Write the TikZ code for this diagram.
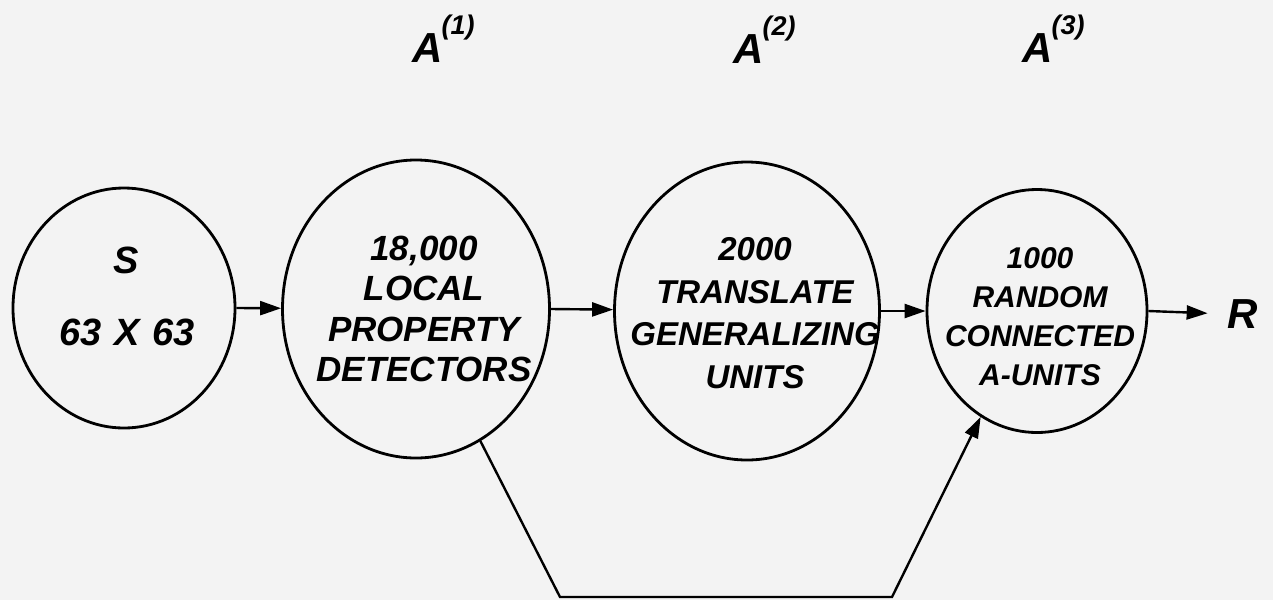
\documentclass[tikz,border=0pt]{standalone}
\usepackage{fontspec}
\setmainfont{Liberation Sans}
\usetikzlibrary{shapes.geometric,arrows.meta}
\definecolor{bg}{RGB}{243,243,243}
\begin{document}
\begin{tikzpicture}[x=1pt,y=-1pt,
  unit/.style={ellipse,draw,line width=2.8pt,inner sep=0pt},
  lbl/.style={align=center,inner sep=0pt},
  conn/.style={line width=2.4pt,-{Triangle[length=21pt,width=14pt]}},
  layer/.style={anchor=base west,inner sep=0pt,font=\bfseries\itshape\fontsize{42}{42}\selectfont}]
\fill[bg] (0,0) rectangle (1273,600);
\useasboundingbox (0,0) rectangle (1273,600);

% units
\node[unit,minimum width=222pt,minimum height=240pt] (s) at (124,308) {};
\node[unit,minimum width=267pt,minimum height=298pt] (c2) at (416,309) {};
\node[unit,minimum width=265pt,minimum height=298pt] (c3) at (747,311) {};
\node[unit,minimum width=220pt,minimum height=243pt] (c4) at (1037,311) {};

% texts
\node[lbl,font=\bfseries\itshape\fontsize{38}{46}\selectfont] (ts) at (126,260) {S};
\node[lbl,font=\bfseries\itshape\fontsize{38}{46}\selectfont] (tsz) at (127,332) {63\,\,X\,\,63};
\node[lbl,font=\bfseries\itshape\fontsize{35}{40.5}\selectfont] (t2) at (424,309) {18,000\\LOCAL\\PROPERTY\\DETECTORS};
\node[lbl,font=\bfseries\itshape\fontsize{33}{42.5}\selectfont] (t3) at (755,313) {2000\\TRANSLATE\\GENERALIZING\\UNITS};
\node[lbl,font=\bfseries\itshape\fontsize{30}{39}\selectfont] (t4) at (1040,317) {1000\\RANDOM\\CONNECTED\\A-UNITS};

% layer labels
\node[layer] (a1) at (412,62) {A\kern-1pt\raisebox{28pt}{\fontsize{27}{27}\selectfont(1)}};
\node[layer] (a2) at (733,63) {A\kern-1pt\raisebox{28pt}{\fontsize{27}{27}\selectfont(2)}};
\node[layer] (a3) at (1022,62) {A\kern-1pt\raisebox{28pt}{\fontsize{27}{27}\selectfont(3)}};

% response
\node[inner sep=0pt,font=\bfseries\itshape\fontsize{42}{42}\selectfont] (r) at (1243,314) {R};

% connectors
\draw[conn] (s.east) -- (c2);
\draw[conn] (c2.east) -- (c3);
\draw[conn] (c3.east) -- (c4);
\draw[conn,shorten >=20pt] (c4.east) -- (r.west);

\coordinate (bl) at (560,597);
\coordinate (br) at (892,597);
\draw[conn] (c2.-64) -- (bl) -- (br) -- (c4.-118);
\end{tikzpicture}
\end{document}
